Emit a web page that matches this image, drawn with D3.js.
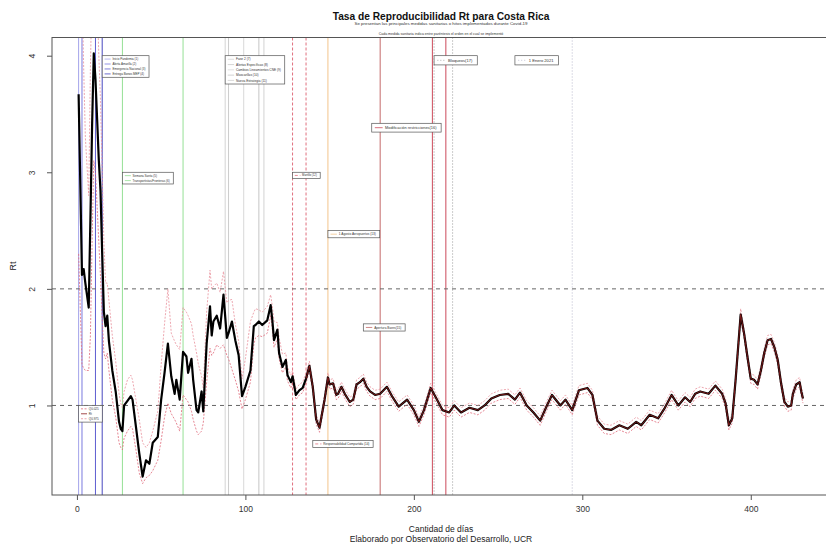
<!DOCTYPE html>
<html>
<head>
<meta charset="utf-8">
<script src="https://cdn.jsdelivr.net/npm/d3@7.9.0/dist/d3.min.js"></script>
<style>
  body { margin: 0; background: #fff; }
  svg { display: block; font-family: "Liberation Sans", Arial, sans-serif; }
</style>
</head>
<body>
<svg id="chart" width="826" height="544"></svg>
<script>
// dias desde el inicio y estimaciones de Rt con sus cuantiles
const dias = [1, 3, 4, 5, 7, 8, 9, 10, 11, 12, 13, 14, 15, 16, 17, 18, 19, 21, 23, 25, 26, 27, 28, 30, 32, 33, 35, 37, 39, 41, 43, 45, 48, 50, 52, 54, 56, 58, 59, 61, 63, 65, 66, 68, 69, 71, 72, 74, 75, 77, 79, 80, 81, 83, 85, 87, 89, 90, 92, 94, 96, 98, 100, 103, 105, 106, 108, 110, 113, 115, 116, 117, 119, 120, 122, 124, 125, 127, 128, 130, 132, 134, 136, 138, 140, 142, 144, 147, 149, 150, 152, 154, 155, 157, 159, 162, 164, 166, 168, 170, 172, 174, 177, 180, 184, 187, 191, 196, 200, 203, 206, 210, 213, 217, 221, 224, 228, 233, 238, 242, 246, 251, 256, 260, 263, 267, 271, 275, 279, 282, 287, 290, 294, 298, 303, 306, 309, 313, 317, 322, 327, 332, 335, 340, 345, 349, 353, 357, 361, 364, 367, 370, 375, 379, 383, 385, 387, 389, 391, 394, 396, 398, 400, 402, 404, 406, 408, 410, 412, 414, 416, 418, 420, 422, 424, 425, 427, 429, 430, 431];

const rt = [3.67, 2.12, 2.17, 2.05, 1.84, 2.60, 3.40, 4.02, 3.80, 3.45, 3.10, 2.84, 2.30, 1.80, 1.68, 1.77, 1.55, 1.30, 1.12, 0.86, 0.80, 0.78, 1.00, 1.04, 1.08, 1.05, 0.82, 0.59, 0.39, 0.53, 0.50, 0.68, 0.73, 1.05, 1.28, 1.53, 1.25, 1.10, 1.22, 1.05, 1.46, 1.42, 1.28, 1.40, 1.22, 0.96, 0.94, 1.12, 0.95, 1.53, 1.85, 1.60, 1.72, 1.77, 1.66, 1.95, 1.58, 1.62, 1.72, 1.56, 1.43, 1.08, 1.16, 1.30, 1.68, 1.69, 1.72, 1.69, 1.73, 1.86, 1.73, 1.56, 1.65, 1.45, 1.33, 1.39, 1.26, 1.20, 1.25, 1.09, 1.13, 1.15, 1.23, 1.34, 1.16, 0.88, 0.81, 1.05, 1.24, 1.18, 1.19, 1.09, 1.10, 1.16, 1.10, 1.03, 1.05, 1.18, 1.20, 1.23, 1.16, 1.12, 1.09, 1.10, 1.16, 1.08, 0.99, 1.05, 0.96, 0.86, 0.96, 1.15, 1.07, 0.96, 0.94, 1.00, 0.94, 0.98, 0.96, 1.00, 1.06, 1.09, 1.10, 1.05, 1.11, 1.00, 0.94, 0.87, 1.00, 1.09, 1.00, 1.05, 0.96, 1.13, 1.15, 1.09, 0.87, 0.80, 0.79, 0.83, 0.80, 0.86, 0.83, 0.92, 0.89, 0.98, 1.09, 1.00, 1.07, 1.03, 1.10, 1.12, 1.10, 1.17, 1.10, 1.02, 0.83, 0.89, 1.22, 1.78, 1.62, 1.42, 1.23, 1.22, 1.18, 1.30, 1.45, 1.56, 1.57, 1.50, 1.39, 1.19, 1.03, 0.99, 1.00, 1.10, 1.18, 1.20, 1.12, 1.06];

const rtBajo = [2.30, 1.35, 1.32, 1.30, 1.30, 1.60, 2.40, 3.10, 3.00, 2.70, 2.40, 2.10, 1.75, 1.45, 1.40, 1.45, 1.30, 1.05, 0.90, 0.68, 0.64, 0.62, 0.72, 0.78, 0.82, 0.80, 0.62, 0.42, 0.33, 0.38, 0.40, 0.44, 0.53, 0.70, 0.90, 1.02, 0.93, 0.88, 0.85, 0.78, 1.09, 1.05, 1.03, 0.95, 0.88, 0.78, 0.75, 0.78, 0.85, 1.20, 1.49, 1.43, 1.45, 1.52, 1.49, 1.52, 1.43, 1.40, 1.31, 1.22, 1.12, 0.97, 1.05, 1.20, 1.52, 1.58, 1.60, 1.59, 1.62, 1.77, 1.65, 1.50, 1.57, 1.40, 1.28, 1.33, 1.21, 1.15, 1.20, 1.05, 1.09, 1.11, 1.19, 1.30, 1.12, 0.84, 0.77, 1.01, 1.20, 1.14, 1.15, 1.05, 1.06, 1.12, 1.06, 0.99, 1.01, 1.14, 1.16, 1.19, 1.12, 1.08, 1.05, 1.06, 1.12, 1.04, 0.95, 1.01, 0.92, 0.82, 0.92, 1.11, 1.03, 0.92, 0.90, 0.96, 0.90, 0.94, 0.92, 0.96, 1.02, 1.05, 1.06, 1.01, 1.07, 0.96, 0.90, 0.83, 0.96, 1.05, 0.96, 1.01, 0.92, 1.09, 1.11, 1.05, 0.83, 0.76, 0.75, 0.79, 0.76, 0.82, 0.79, 0.88, 0.85, 0.94, 1.05, 0.96, 1.03, 0.99, 1.06, 1.08, 1.06, 1.13, 1.06, 0.98, 0.79, 0.85, 1.18, 1.73, 1.58, 1.38, 1.19, 1.18, 1.14, 1.26, 1.41, 1.52, 1.53, 1.46, 1.35, 1.15, 0.99, 0.95, 0.96, 1.06, 1.14, 1.16, 1.08, 1.02];

const rtAlto = [5.00, 4.60, 3.90, 3.30, 2.80, 3.90, 4.60, 5.00, 4.80, 4.50, 4.00, 3.60, 3.00, 2.40, 2.05, 2.05, 1.90, 1.60, 1.38, 1.10, 1.02, 0.98, 1.12, 1.22, 1.26, 1.22, 1.05, 0.88, 0.68, 0.64, 0.68, 0.78, 0.95, 1.35, 1.70, 2.00, 1.62, 1.55, 1.52, 1.48, 1.84, 1.80, 1.77, 1.70, 1.60, 1.45, 1.36, 1.25, 1.15, 1.80, 2.16, 2.00, 2.02, 2.05, 1.97, 2.15, 1.88, 1.90, 1.91, 1.70, 1.55, 1.23, 1.40, 1.72, 1.80, 1.83, 1.82, 1.80, 1.85, 1.95, 1.85, 1.72, 1.71, 1.58, 1.44, 1.45, 1.33, 1.26, 1.30, 1.14, 1.18, 1.20, 1.28, 1.38, 1.20, 0.92, 0.85, 1.09, 1.28, 1.22, 1.23, 1.13, 1.14, 1.20, 1.14, 1.07, 1.09, 1.22, 1.24, 1.27, 1.20, 1.16, 1.13, 1.14, 1.20, 1.12, 1.03, 1.09, 1.00, 0.90, 1.00, 1.19, 1.11, 1.00, 0.98, 1.04, 0.98, 1.02, 1.00, 1.04, 1.10, 1.13, 1.14, 1.09, 1.15, 1.04, 0.98, 0.91, 1.04, 1.13, 1.04, 1.09, 1.00, 1.17, 1.19, 1.13, 0.91, 0.84, 0.83, 0.87, 0.84, 0.90, 0.87, 0.96, 0.93, 1.02, 1.13, 1.04, 1.11, 1.07, 1.14, 1.16, 1.14, 1.21, 1.14, 1.06, 0.87, 0.93, 1.26, 1.83, 1.66, 1.46, 1.27, 1.26, 1.22, 1.34, 1.49, 1.60, 1.61, 1.54, 1.43, 1.23, 1.07, 1.03, 1.04, 1.14, 1.22, 1.24, 1.16, 1.10];

// medidas sanitarias / hitos y los dias en que se marcan
const medidas = ["Inicio Pandemia (1)", "Alerta Amarilla (2)", "Emergencia Nacional (3)", "Entrega Bonos MEP (4)",
  "Semana Santa (5)", "Transportistas/Fronteras (6)",
  "Fase 2 (7)", "Alertas Específicas (8)", "Cambios Lineamientos CNE (9)", "Mascarillas (10)", "Nueva Estrategia (11)",
  "Martillo (12)", "1 Agosto Aeropuertos (13)", "Responsabilidad Compartida (14)", "Apertura Bares(15)",
  "Modificación restricciones(16)", "Bloqueos(17)", "1 Enero 2021"];
const medidaDias = [[1], [3], [11], [15], [27], [63], [88], [90], [99], [108], [111], [128], [149], [136], [180], [211, 219], [212, 223], [294]];

const cuantiles = ["Q0.025", "Rt", "Q0.975"];
const xTicks = [0, 100, 200, 300, 400];
const yTicks = [1, 2, 3, 4];
const lineasRef = [1, 2];

// estilos de cada medida
const medidaColor = ["#a3a3ea", "#7a7ade", "#5e5ed0", "#4848bf", "#95e095", "#95e095",
  "#d4d4d4", "#cdcdcd", "#d8d8d8", "#c6c6c6", "#d2d2d2",
  "#e0707e", "#f3c58c", "#e0707e", "#c46a6a", "#cc4a5a", "#9a9a9a", "#b8b8cc"];
const medidaDash = [null, null, null, null, null, null, null, null, null, null, null,
  "3,2", null, "3,2", null, null, "1,2", "1,2"];

// grupos de leyenda: [primer indice, ultimo indice, dia, valor, tamaño letra]
const leyendas = [
  [0, 3, 15, 4.0, 3.0],
  [6, 10, 88, 4.0, 3.2],
  [4, 5, 27, 3.0, 3.0],
  [11, 11, 128, 3.0, 2.8],
  [12, 12, 149, 2.5, 3.2],
  [13, 13, 140, 0.7, 3.1],
  [14, 14, 170, 1.7, 3.2],
  [15, 15, 175, 3.42, 3.9],
  [16, 16, 212, 4.0, 4.1],
  [17, 17, 260, 4.0, 4.1]
];

const svg = d3.select("#chart");
const mLeft = 52, mTop = 37.5, mBottom = 495, mRight = 835;

let x = d3.scaleLinear().domain([-14.8, 450]).range([mLeft, mRight]);
let y = d3.scaleLinear().domain([0.232, 4.156]).range([mBottom, mTop]);

svg.append("clipPath").attr("id", "area")
  .append("rect").attr("x", mLeft).attr("y", mTop)
  .attr("width", mRight - mLeft).attr("height", mBottom - mTop);

let plot = svg.append("g").attr("clip-path", "url(#area)");

// lineas verticales de medidas
medidaDias.forEach((ds, i) => {
  ds.forEach((d) => {
    plot.append("line")
      .attr("x1", x(d)).attr("x2", x(d))
      .attr("y1", mTop).attr("y2", mBottom)
      .attr("stroke", medidaColor[i])
      .attr("stroke-width", 1)
      .attr("stroke-dasharray", medidaDash[i]);
  });
});

// lineas de referencia
lineasRef.forEach((v) => {
  plot.append("line")
    .attr("x1", mLeft).attr("x2", mRight)
    .attr("y1", y(v)).attr("y2", y(v))
    .attr("stroke", "#666")
    .attr("stroke-width", 1)
    .attr("stroke-dasharray", "4,4");
});

let serie = dias.map((d, i) => ({ dia: d, rt: rt[i], bajo: rtBajo[i], alto: rtAlto[i] }));

let linea = (campo) => d3.line().x((d) => x(d.dia)).y((d) => y(d[campo]));

plot.append("path").datum(serie)
  .attr("d", linea("bajo"))
  .attr("fill", "none").attr("stroke", "#e06a7a")
  .attr("stroke-width", 0.8).attr("stroke-dasharray", "2,1.5");

plot.append("path").datum(serie)
  .attr("d", linea("alto"))
  .attr("fill", "none").attr("stroke", "#e8909c")
  .attr("stroke-width", 0.8).attr("stroke-dasharray", "2,1.5");

plot.append("path").datum(serie)
  .attr("d", linea("rt"))
  .attr("fill", "none").attr("stroke", "#000")
  .attr("stroke-width", 2.2).attr("stroke-linejoin", "round");

plot.append("path").datum(serie.filter((d) => d.dia >= 136))
  .attr("d", linea("rt"))
  .attr("fill", "none").attr("stroke", "#a02020")
  .attr("stroke-width", 1).attr("stroke-opacity", 0.75);

// leyendas
function dibujarLeyenda(dia, valor, fs, items) {
  let g = svg.append("g");
  let x0 = x(dia), y0 = y(valor);
  let rowH = fs * 1.65;
  let caja = g.append("rect")
    .attr("x", x0).attr("y", y0)
    .attr("height", items.length * rowH + fs * 0.6)
    .attr("fill", "#fff").attr("stroke", "#555").attr("stroke-width", 0.7);
  let ancho = 0;
  items.forEach((it, i) => {
    let cy = y0 + fs * 0.3 + rowH * (i + 0.5);
    g.append("line")
      .attr("x1", x0 + fs * 0.8).attr("x2", x0 + fs * 2.8)
      .attr("y1", cy).attr("y2", cy)
      .attr("stroke", it.color).attr("stroke-width", 0.8)
      .attr("stroke-dasharray", it.dash);
    let t = g.append("text")
      .attr("x", x0 + fs * 3.4).attr("y", cy)
      .attr("dy", "0.35em")
      .attr("font-size", fs).attr("fill", "#333")
      .text(it.label);
    ancho = Math.max(ancho, t.node().getComputedTextLength());
  });
  caja.attr("width", fs * 3.4 + ancho + fs * 1.2);
}

leyendas.forEach(([a, b, dia, valor, fs]) => {
  let items = d3.range(a, b + 1).map((i) => ({ label: medidas[i], color: medidaColor[i], dash: medidaDash[i] }));
  dibujarLeyenda(dia, valor, fs, items);
});

dibujarLeyenda(1, 1.0, 3.0, cuantiles.map((c, i) => ({
  label: c,
  color: ["#e06a7a", "#8b1a1a", "#e8909c"][i],
  dash: i === 1 ? null : "2,1.5"
})));

// caja y ejes
svg.append("rect")
  .attr("x", mLeft).attr("y", mTop)
  .attr("width", mRight - mLeft).attr("height", mBottom - mTop)
  .attr("fill", "none").attr("stroke", "#555").attr("stroke-width", 1);

let xAxis = svg.append("g").attr("transform", `translate(0,${mBottom})`)
  .call(d3.axisBottom(x).tickValues(xTicks).tickSize(5).tickPadding(6));
xAxis.select(".domain").remove();
xAxis.selectAll("line").attr("stroke", "#555");
xAxis.selectAll("text").attr("font-size", 8.5).attr("fill", "#333")
  .attr("font-family", "Liberation Sans, Arial, sans-serif");

let yAxis = svg.append("g").attr("transform", `translate(${mLeft},0)`)
  .call(d3.axisLeft(y).tickValues(yTicks).tickSize(5).tickFormat(d3.format("d")));
yAxis.select(".domain").remove();
yAxis.selectAll("line").attr("stroke", "#555");
yAxis.selectAll("text")
  .attr("font-size", 8.5).attr("fill", "#333")
  .attr("font-family", "Liberation Sans, Arial, sans-serif")
  .attr("text-anchor", "middle")
  .attr("x", null).attr("dy", null)
  .attr("transform", "translate(-17,0) rotate(-90)");

// titulos
svg.append("text").attr("x", 441).attr("y", 20)
  .attr("text-anchor", "middle").attr("font-size", 10.2).attr("font-weight", "bold")
  .attr("fill", "#111").text("Tasa de Reproducibilidad Rt para Costa Rica");
svg.append("text").attr("x", 441).attr("y", 25)
  .attr("text-anchor", "middle").attr("font-size", 4.4).attr("fill", "#333")
  .text("Se presentan las principales medidas sanitarias o hitos implementados durante Covid-19");
svg.append("text").attr("x", 441).attr("y", 35)
  .attr("text-anchor", "middle").attr("font-size", 3.5).attr("fill", "#333")
  .text("Cada medida sanitaria indica entre paréntesis el orden en el cual se implementó");

svg.append("text").attr("x", 441).attr("y", 532)
  .attr("text-anchor", "middle").attr("font-size", 8.5).attr("fill", "#222")
  .text("Cantidad de días");
svg.append("text").attr("x", 441).attr("y", 542)
  .attr("text-anchor", "middle").attr("font-size", 8.5).attr("fill", "#222")
  .text("Elaborado por Observatorio del Desarrollo, UCR");

svg.append("text")
  .attr("transform", "translate(16,266) rotate(-90)")
  .attr("text-anchor", "middle").attr("font-size", 9).attr("fill", "#222")
  .text("Rt");
</script>
</body>
</html>
